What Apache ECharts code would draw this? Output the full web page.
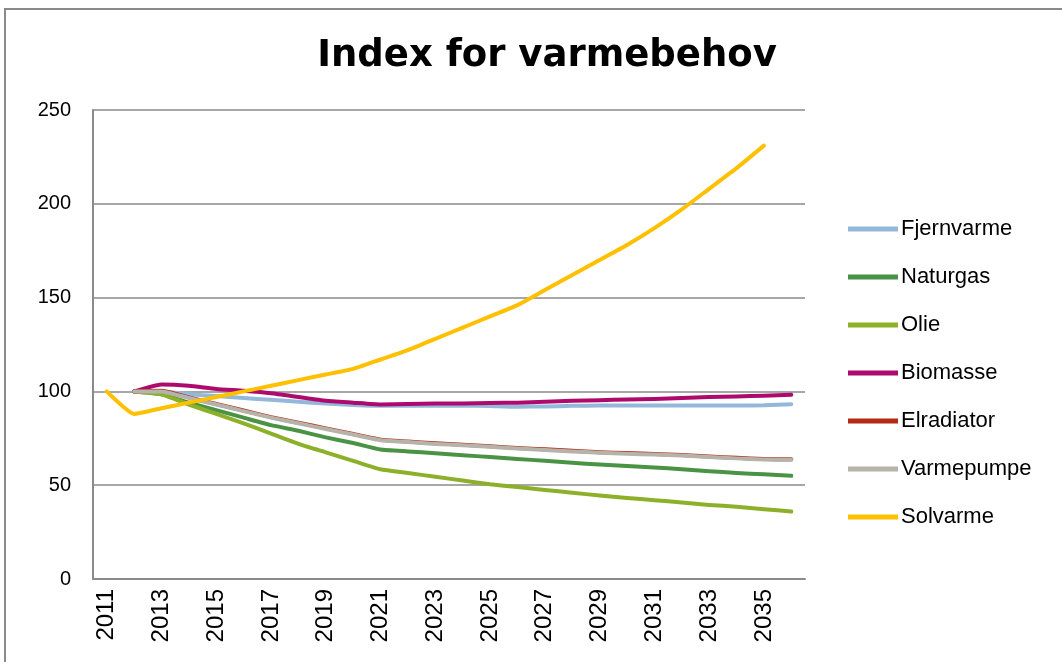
<!DOCTYPE html>
<html>
<head>
<meta charset="UTF-8">
<title>Index for varmebehov</title>
<script src="https://cdn.jsdelivr.net/npm/echarts@6/dist/echarts.min.js"></script>
<style>
  html, body { margin: 0; padding: 0; background: #fff; }
  #chart { width: 1062px; height: 662px; }
</style>
</head>
<body>
<div id="chart"></div>
<script>
// år på x-aksen
var years = [];
for (var y = 2011; y <= 2036; y++) years.push(String(y));

var fjernvarme = [null, 100, 100, 98.5, 97.5, 96.5, 95.5, 94.5, 93.5, 92.8, 92.3, 92.3, 92.3, 92.5, 92.2, 91.8, 92, 92.3, 92.5, 92.5, 92.5, 92.5, 92.5, 92.5, 92.6, 93.2];
var naturgas   = [null, 100, 98.5, 94, 90, 86, 82, 79, 75.5, 72.5, 69, 68, 67, 66, 65, 64, 63, 62, 61, 60.2, 59.5, 58.5, 57.5, 56.5, 55.8, 55];
var olie       = [null, 100, 98.5, 93, 88, 83, 77.5, 72, 67.5, 63, 58.5, 56.5, 54.5, 52.5, 50.5, 49, 47.5, 46, 44.5, 43.2, 42, 40.8, 39.5, 38.5, 37.2, 36];
var biomasse   = [null, 100, 103.7, 103, 101.3, 100.3, 99, 97, 95, 94, 93, 93.3, 93.5, 93.5, 93.8, 94, 94.5, 95, 95.3, 95.7, 96, 96.5, 97, 97.3, 97.7, 98.2];
var elradiator = [null, 100, 100.3, 96.8, 93.3, 89.8, 86.3, 83.3, 80.3, 77.3, 74.3, 73.3, 72.3, 71.6, 70.8, 69.8, 69.1, 68.3, 67.6, 67.1, 66.6, 66.1, 65.3, 64.6, 64, 63.8];
var varmepumpe = [null, 100, 100, 96.5, 93, 89.5, 86, 83, 80, 77, 74, 73, 72, 71.3, 70.5, 69.5, 68.8, 68, 67.3, 66.8, 66.3, 65.8, 65, 64.3, 63.7, 63.5];
var solvarme   = [100, 88, 91, 94, 97, 100, 103, 106, 109, 112, 117, 122, 128, 134, 140, 146, 154, 162, 170, 178, 187, 197, 208, 219, 231, null];

var seriesNames = ['Fjernvarme', 'Naturgas', 'Olie', 'Biomasse', 'Elradiator', 'Varmepumpe', 'Solvarme'];
var seriesData = [fjernvarme, naturgas, olie, biomasse, elradiator, varmepumpe, solvarme];
var colors = ['#93B8DA', '#4A9345', '#8DB02A', '#AE0A6E', '#B22A12', '#B5B3AA', '#FFC000'];

var series = [];
for (var i = 0; i < seriesNames.length; i++) {
  series.push({
    name: seriesNames[i],
    type: 'line',
    data: seriesData[i],
    showSymbol: false,
    symbol: 'none',
    smooth: 0.15,
    connectNulls: false,
    lineStyle: { width: 4, color: colors[i], cap: 'round', join: 'round' },
    itemStyle: { color: colors[i] }
  });
}

var chart = echarts.init(document.getElementById('chart'), null, { renderer: 'canvas' });
chart.setOption({
  animation: false,
  color: colors,
  title: {
    text: 'Index for varmebehov',
    left: 542,
    top: 33,
    textAlign: 'center',
    textStyle: { fontFamily: 'DejaVu Sans', fontWeight: 'bold', fontSize: 37, color: '#000' }
  },
  graphic: [{
    type: 'rect',
    shape: { x: 5, y: 9, width: 1100, height: 700 },
    style: { fill: 'none', stroke: '#8a8a8a', lineWidth: 2 },
    silent: true
  }],
  grid: { left: 93, right: 257, top: 110, bottom: 83 },
  legend: {
    orient: 'vertical',
    left: 843,
    top: 212,
    icon: 'rect',
    itemWidth: 50,
    itemHeight: 5,
    itemGap: 24,
    textStyle: { fontFamily: 'Liberation Sans', fontSize: 22, color: '#000', lineHeight: 24, padding: [0, 0, 0, -2] },
    data: seriesNames
  },
  xAxis: {
    type: 'category',
    data: years,
    boundaryGap: true,
    axisLine: { lineStyle: { color: '#8a8a8a', width: 2 } },
    axisTick: { show: false },
    axisLabel: {
      interval: 1,
      rotate: 90,
      margin: 10,
      fontFamily: 'Liberation Sans',
      fontSize: 24,
      color: '#000'
    }
  },
  yAxis: {
    type: 'value',
    min: 0,
    max: 250,
    interval: 50,
    axisLine: { show: true, lineStyle: { color: '#8a8a8a', width: 2 } },
    axisTick: { show: false },
    splitLine: { lineStyle: { color: '#8a8a8a', width: 1.5 } },
    axisLabel: {
      margin: 22,
      fontFamily: 'Liberation Sans',
      fontSize: 20,
      color: '#000'
    }
  },
  series: series
});
</script>
</body>
</html>
